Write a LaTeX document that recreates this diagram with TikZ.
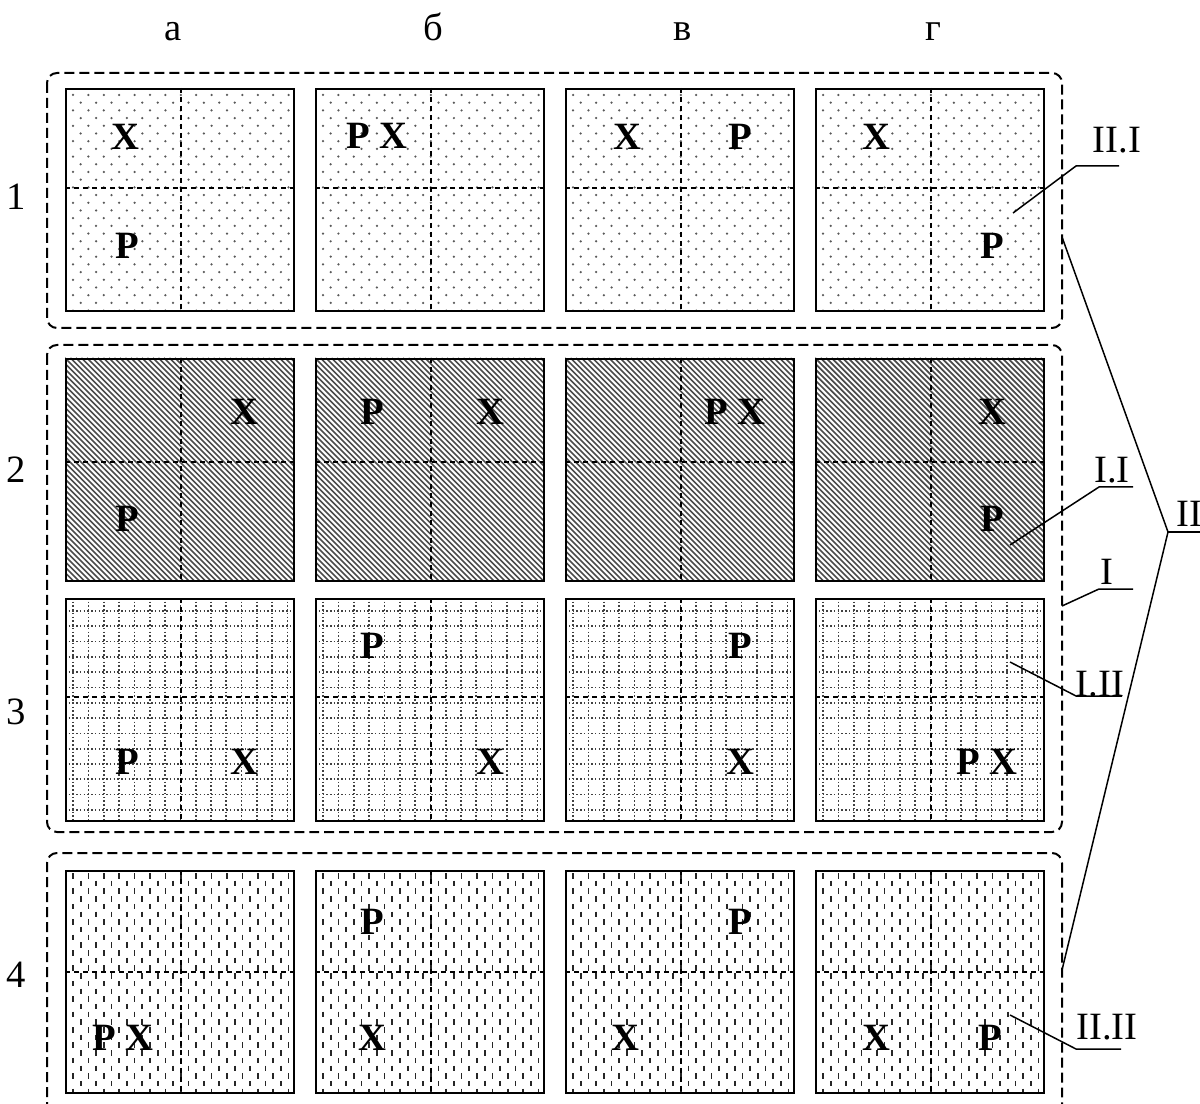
\documentclass[tikz,border=0pt]{standalone}
\usepackage{fontspec}
\setmainfont{Liberation Serif}
\usepackage{tikz}

% fill patterns of the four rows (units: px of the sheet)
\newcommand{\patdots}{\foreach \j in {0,...,29}{\foreach \i in {0,...,15}{%
  \fill[black!65] ({8+\i*15.4+mod(\j,2)*7.7},{7+\j*7.7}) circle (0.025cm);}}}
\newcommand{\pathatch}{\foreach \k in {-44,...,44}{%
  \draw[black!70,line width=0.035cm] ({\k*5.5},0) -- ++(240,240);}}
\newcommand{\patgrid}{\foreach \k in {0,...,15}{%
  \draw[gridline] ({8.3+\k*15.3},0) -- ++(0,222);
  \draw[gridline] (0,{13+\k*15.3}) -- ++(228,0);}}
\newcommand{\patdash}{\foreach \j in {0,...,29}{\foreach \i in {0,...,15}{%
  \draw[black!85,line width=0.035cm] ({8+\i*15.4+mod(\j,2)*7.7},{3+\j*7.7}) -- ++(0,5.5);}}}

% one plot: name, left, top, pattern, height of the horizontal divider
\newcommand{\cellbox}[5]{%
  \begin{scope}
    \clip (#2,#3) rectangle ++(228,222);
    \begin{scope}[shift={(#2,#3)}] #4 \end{scope}
  \end{scope}
  \draw[divider] (#2+116,#3) -- ++(0,222);
  \draw[divider] (#2,#3+#5) -- ++(228,0);
  \node[cell] (#1) at (#2,#3) {};
}

\tikzset{
  cell/.style={draw,line width=0.04cm,minimum width=4.56cm,minimum height=4.44cm,
    anchor=north west,inner sep=0pt},
  divider/.style={line width=0.03cm,dash pattern=on 0.1cm off 0.08cm},
  gridline/.style={black!75,line width=0.035cm,dash pattern=on 0.03cm off 0.045cm},
  group/.style={line width=0.04cm,dash pattern=on 0.2cm off 0.1cm,rounded corners=0.2cm},
  letter/.style={font=\fontsize{22}{22}\selectfont\bfseries,inner sep=0pt},
  lbl/.style={font=\fontsize{22}{22}\selectfont,inner sep=0pt},
  leader/.style={line width=0.03cm},
}

\begin{document}
\begin{tikzpicture}[x=0.02cm,y=-0.02cm]
  \useasboundingbox (0,0) rectangle (1200,1104);

  % plots
  \foreach \col/\cx in {a/65,b/315,c/565,d/815}{
    \cellbox{r1\col}{\cx}{88}{\patdots}{100}
    \cellbox{r2\col}{\cx}{358}{\pathatch}{104}
    \cellbox{r3\col}{\cx}{598}{\patgrid}{99}
    \cellbox{r4\col}{\cx}{870}{\patdash}{102}
  }

  % groups
  \draw[group] (47,73) rectangle (1062,328);
  \draw[group] (47,345) rectangle (1062,832);
  \draw[group] (47,1112) -- (47,853) -- (1062,853) -- (1062,1112);

  % column and row heads
  \node[lbl,anchor=base] (ca) at (173,41) {а};
  \node[lbl,anchor=base] (cb) at (433,41) {б};
  \node[lbl,anchor=base] (cc) at (683,41) {в};
  \node[lbl,anchor=base] (cd) at (933,41) {г};
  \node[lbl] (n1) at (16,197) {1};
  \node[lbl] (n2) at (16,470) {2};
  \node[lbl] (n3) at (16,712) {3};
  \node[lbl] (n4) at (16,975) {4};

  % row 1
  \node[letter] (x1a) at (125,137) {Х};
  \node[letter] (p1a) at (127,246) {Р};
  \node[letter] (px1b) at (377,136) {Р Х};
  \node[letter] (x1c) at (627,137) {Х};
  \node[letter] (p1c) at (740,137) {Р};
  \node[letter] (x1d) at (876,137) {Х};
  \node[letter] (p1d) at (992,246) {Р};
  % row 2
  \node[letter] (x2a) at (244,412) {Х};
  \node[letter] (p2a) at (127,519) {Р};
  \node[letter] (p2b) at (372,412) {Р};
  \node[letter] (x2b) at (490,412) {Х};
  \node[letter] (px2c) at (735,412) {Р Х};
  \node[letter] (x2d) at (992,412) {Х};
  \node[letter] (p2d) at (992,519) {Р};
  % row 3
  \node[letter] (p3a) at (127,762) {Р};
  \node[letter] (x3a) at (244,762) {Х};
  \node[letter] (p3b) at (372,646) {Р};
  \node[letter] (x3b) at (490,762) {Х};
  \node[letter] (p3c) at (740,646) {Р};
  \node[letter] (x3c) at (740,762) {Х};
  \node[letter] (px3d) at (987,762) {Р Х};
  % row 4
  \node[letter] (px4a) at (123,1038) {Р Х};
  \node[letter] (p4b) at (372,922) {Р};
  \node[letter] (x4b) at (372,1038) {Х};
  \node[letter] (p4c) at (740,922) {Р};
  \node[letter] (x4c) at (625,1038) {Х};
  \node[letter] (x4d) at (876,1038) {Х};
  \node[letter] (p4d) at (990,1038) {Р};

  % callouts
  \node[lbl] (tII1) at (1117,140) {II.I};
  \node[lbl] (tI1) at (1112,470) {I.I};
  \node[lbl] (tI) at (1107,572) {I};
  \node[lbl] (tI2) at (1100,684) {I.II};
  \node[lbl,anchor=west] (tII) at (1176,514) {II};
  \node[lbl] (tII2) at (1107,1027) {II.II};

  \coordinate (pII1) at (1013,213);
  \coordinate (kII1) at (1076,166);
  \coordinate (eII1) at (1119,166);
  \coordinate (pI1) at (1010,545);
  \coordinate (kI1) at (1099,487);
  \coordinate (eI1) at (1133,487);
  \coordinate (pI) at (1062,606);
  \coordinate (kI) at (1099,589);
  \coordinate (eI) at (1133,589);
  \coordinate (pI2) at (1010,662);
  \coordinate (kI2) at (1076,696);
  \coordinate (eI2) at (1122,696);
  \coordinate (pIIa) at (1062,237);
  \coordinate (kII) at (1168,532);
  \coordinate (eII) at (1200,532);
  \coordinate (pIIb) at (1062,970);
  \coordinate (pII2) at (1010,1015);
  \coordinate (kII2) at (1076,1049);
  \coordinate (eII2) at (1121,1049);

  \draw[leader] (pII1) -- (kII1) -- (eII1);
  \draw[leader] (pI1) -- (kI1) -- (eI1);
  \draw[leader] (pI) -- (kI) -- (eI);
  \draw[leader] (pI2) -- (kI2) -- (eI2);
  \draw[leader] (pIIa) -- (kII) -- (pIIb);
  \draw[leader] (kII) -- (eII);
  \draw[leader] (pII2) -- (kII2) -- (eII2);
\end{tikzpicture}
\end{document}
